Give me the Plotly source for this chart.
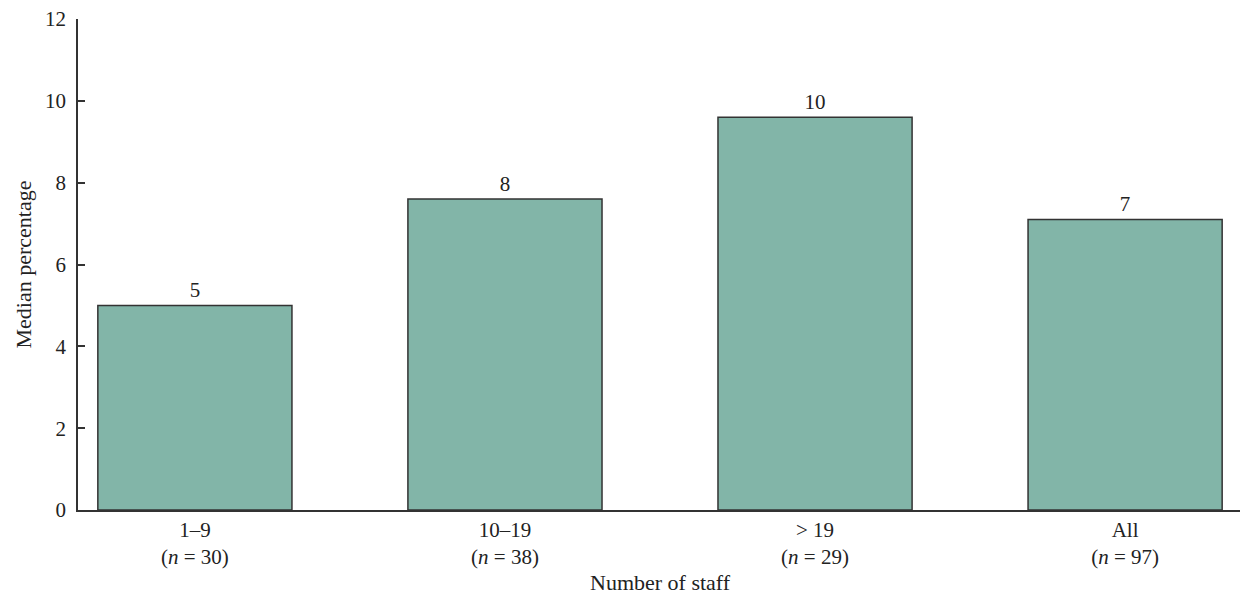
import plotly.graph_objects as go

categories = ["1–9<br>(<i>n</i> = 30)", "10–19<br>(<i>n</i> = 38)", "> 19<br>(<i>n</i> = 29)", "All<br>(<i>n</i> = 97)"]
values = [5.0, 7.6, 9.6, 7.1]
labels = ["5", "8", "10", "7"]
y_ticks = [0, 2, 4, 6, 8, 10, 12]

FONT = "Liberation Serif, DejaVu Serif, serif"
x_pos = list(range(len(categories)))

fig = go.Figure(go.Bar(
    x=x_pos, y=values, width=0.626,
    marker=dict(color="#82B5A8", line=dict(color="#333333", width=1.5)),
    text=labels, textposition="outside", cliponaxis=False,
    textfont=dict(family=FONT, size=21, color="#222222"),
    hoverinfo="skip",
))

fig.update_layout(
    width=1240, height=586,
    margin=dict(l=70, r=6, t=11, b=84, autoexpand=False),
    plot_bgcolor="white", paper_bgcolor="white",
    font=dict(family=FONT, size=21, color="#222222"),
    showlegend=False,
    annotations=[
        dict(text="Median percentage", xref="paper", yref="paper", x=0, y=0.5,
             xanchor="center", yanchor="middle", xshift=-55, textangle=-90,
             showarrow=False, font=dict(family=FONT, size=22, color="#222222")),
        dict(text="Number of staff", xref="paper", yref="paper", x=0.5, y=0,
             xanchor="center", yanchor="middle", yshift=-72,
             showarrow=False, font=dict(family=FONT, size=22, color="#222222")),
    ],
)
fig.update_xaxes(
    range=[-0.377, 3.377], tickvals=x_pos, ticktext=categories,
    showline=True, linecolor="#333333", linewidth=1.5, ticks="",
    showgrid=False, zeroline=False, automargin=False,
    tickfont=dict(family=FONT, size=21),
)
fig.update_yaxes(
    range=[0, 12], tickvals=y_ticks,
    showline=True, linecolor="#333333", linewidth=1.5,
    ticks="inside", ticklen=7, tickcolor="#333333", tickwidth=1.5,
    showgrid=False, zeroline=False, automargin=False,
    ticklabelstandoff=6, ticklabeloverflow="allow",
    tickfont=dict(family=FONT, size=21),
)

fig.write_html("out.html")
